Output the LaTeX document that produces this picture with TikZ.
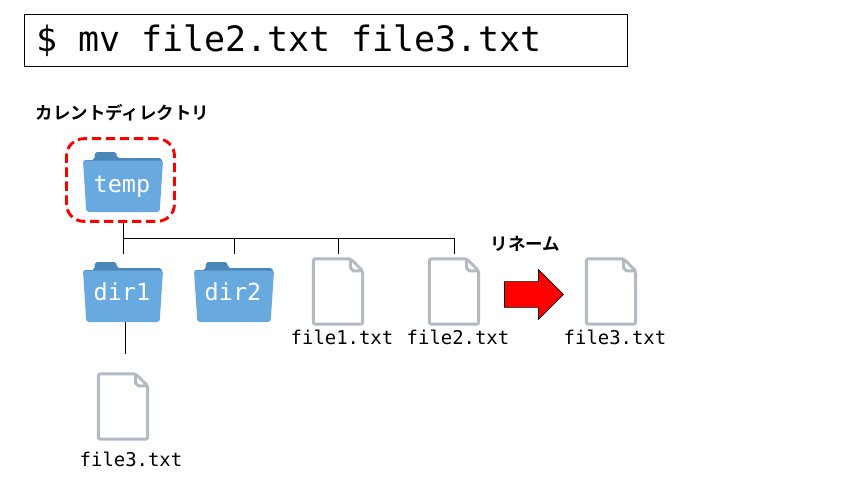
\documentclass[tikz,border=0pt]{standalone}
\usepackage{fontspec}
\setmonofont{DejaVu Sans Mono}
\newfontfamily\jpfont{Noto Sans CJK JP}[BoldFont={* Bold}]
\usetikzlibrary{shapes.arrows}
\definecolor{foldertab}{HTML}{4A86BA}
\definecolor{folderbody}{HTML}{68AAE0}
\definecolor{filegray}{HTML}{B2BAC4}
\tikzset{
  folderpic/.pic={
    \fill[foldertab,rounded corners=1.5pt] (-29.5pt,12pt) -- (-29.5pt,16.5pt) -- (-21.5pt,16.5pt) -- (-21pt,22.5pt) -- (-5pt,22.5pt) -- (-4.5pt,18pt) -- (29pt,18pt) -- (29.5pt,12pt) -- cycle;
    \fill[folderbody,rounded corners=1.5pt] (-30pt,16pt) -- (30pt,16pt) -- (27.5pt,-22.5pt) -- (-27.5pt,-22.5pt) -- cycle;
  },
  filepic/.pic={
    \draw[filegray,line width=2.2pt,line join=round,rounded corners=1.5pt] (-18.5pt,24.5pt) -- (9.5pt,24.5pt) -- (18.5pt,15.5pt) -- (18.5pt,-24.5pt) -- (-18.5pt,-24.5pt) -- cycle;
    \draw[filegray,line width=2.2pt,line join=round] (9.5pt,24.5pt) -- (9.5pt,17.5pt) -- (11.5pt,15.5pt) -- (18.5pt,15.5pt);
  },
  foldernode/.style={inner sep=0pt,text=white,font=\ttfamily\fontsize{17.6}{18}\selectfont},
  filelabel/.style={inner sep=0pt,font=\ttfamily\fontsize{14.2}{15}\selectfont},
  jplabel/.style={inner sep=0pt,font=\jpfont\bfseries\fontsize{13.1}{14}\selectfont},
  treeline/.style={black,line width=0.75pt},
}
\begin{document}
\begin{tikzpicture}[x=0.75pt,y=-0.75pt]
  \useasboundingbox (0,0) rectangle (853,489);
  \node (cmd) at (325.75,40.5) [draw,line width=0.75pt,minimum width=452pt,minimum height=39.5pt,inner sep=0pt,text width=434pt,font=\ttfamily\fontsize{26.2}{27}\selectfont] {\spaceskip=15.77pt\relax \$ mv file2.txt file3.txt};
  \node (cwdlabel) at (122.5,113) [jplabel] {カレントディレクトリ};
  \pic at (123,182) {folderpic};
  \pic at (123,292) {folderpic};
  \pic at (234,292) {folderpic};
  \pic at (338,291.5) {filepic};
  \pic at (454,291.5) {filepic};
  \pic at (611,291.5) {filepic};
  \pic at (123,406.5) {filepic};
  \node (temp) at (122,187) [foldernode] {temp};
  \node (cwdbox) at (120.5,180) [draw=red,dashed,line width=2.2pt,rounded corners=13pt,dash pattern=on 7pt off 3.5pt,minimum width=81pt,minimum height=62pt,inner sep=0pt] {};
  \node (dir1) at (122,292) [foldernode] {dir1};
  \node (dir2) at (233,292) [foldernode] {dir2};
  \node (file1name) at (342,337) [filelabel] {file1.txt};
  \node (file2name) at (458,337) [filelabel] {file2.txt};
  \node (file3newname) at (615,337) [filelabel] {file3.txt};
  \node (file3name) at (131,459) [filelabel] {file3.txt};
  \node (renamelabel) at (525.5,244) [jplabel] {リネーム};
  \node (renamearrow) at (527.5,294.5) [single arrow,draw,fill=red,line width=0.5pt,minimum height=44.25pt,inner xsep=0pt,inner ysep=9.4pt,single arrow head extend=9pt,single arrow head indent=0pt] {};
  \coordinate (bus) at (123,238);
  \coordinate (busend) at (454,238);
  \coordinate (dir1top) at (123,254);
  \coordinate (dir2top) at (234,254);
  \coordinate (file1top) at (338,254);
  \coordinate (file2top) at (454,254);
  \coordinate (dir2bus) at (234,238);
  \coordinate (file1bus) at (338,238);
  \coordinate (dir1start) at (125,322);
  \coordinate (dir1foot) at (125,354);
  \path
    (bus |- cwdbox.south) edge [treeline] (dir1top)
    (bus) edge [treeline] (busend)
    (dir2bus) edge [treeline] (dir2top)
    (file1bus) edge [treeline] (file1top)
    (busend) edge [treeline] (file2top)
    (dir1start) edge [treeline] (dir1foot);
\end{tikzpicture}
\end{document}
